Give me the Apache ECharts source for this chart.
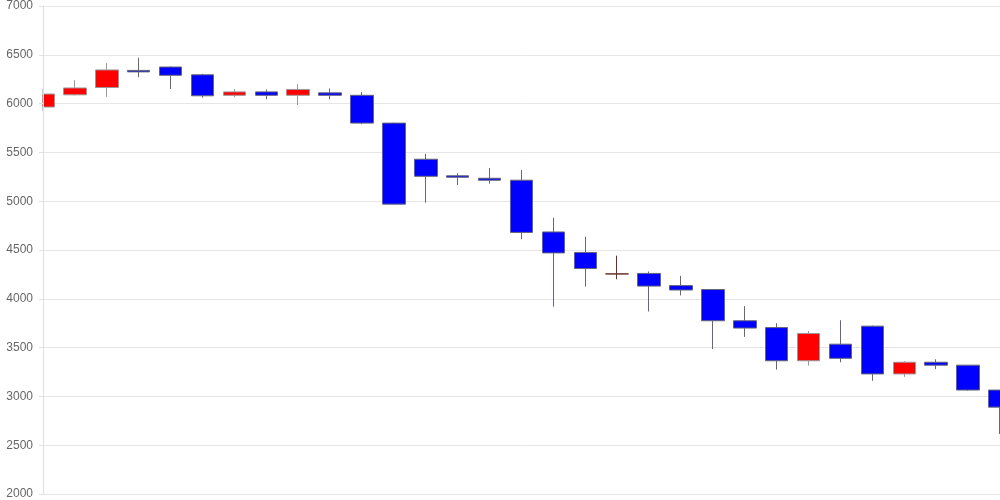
<!DOCTYPE html>
<html>
<head>
<meta charset="utf-8">
<script src="https://cdn.jsdelivr.net/npm/echarts@6/dist/echarts.min.js"></script>
<style>html,body{margin:0;padding:0;background:#fff}#c{width:1000px;height:500px}</style>
</head>
<body>
<div id="c"></div>
<script>
const categories = ['1','2','3','4','5','6','7','8','9','10','11','12','13','14','15','16','17','18','19','20','21','22','23','24','25','26','27','28','29','30','31'];
const opens  = [5965,6090,6165,6340,6375,6295,6085,6120,6085,6110,6085,5800,5430,5260,5235,5215,4685,4475,4255,4260,4135,4095,3775,3705,3365,3535,3720,3230,3350,3320,3065];
const closes = [6098,6160,6345,6325,6290,6080,6120,6085,6145,6085,5800,4970,5255,5245,5215,4680,4470,4310,4255,4130,4090,3775,3700,3365,3645,3390,3230,3350,3320,3065,2890];
const lows   = [5924,6085,6070,6270,6150,6060,6065,6045,5985,6045,5790,4965,4985,5165,5180,4610,3920,4125,4200,3870,4035,3485,3610,3275,3315,3350,3160,3200,3280,3060,2615];
const highs  = [6150,6240,6415,6470,6380,6305,6150,6145,6200,6155,6120,5805,5485,5285,5340,5320,4830,4635,4442,4280,4235,4095,3925,3750,3670,3780,3725,3360,3380,3320,3065];
const yTicks = {min: 2000, max: 7000, interval: 500};

const data = categories.map((c, i) => {
  const item = {value: [opens[i], closes[i], lows[i], highs[i]]};
  if (opens[i] === closes[i]) {
    item.itemStyle = {color: '#6a2c2c', color0: '#6a2c2c', borderColor: '#6a2c2c', borderColor0: '#6a2c2c'};
  }
  return item;
});

const gridLeft = 43, gridTop = 6, gridBottom = 6;
const chart = echarts.init(document.getElementById('c'), null, {renderer: 'canvas'});
chart.setOption({
  animation: false,
  backgroundColor: '#fff',
  grid: {left: gridLeft, right: 0, top: gridTop, bottom: gridBottom, containLabel: false},
  xAxis: {
    type: 'category',
    data: categories,
    boundaryGap: false,
    axisLine: {show: false},
    axisTick: {show: false},
    axisLabel: {show: false},
    splitLine: {show: false}
  },
  yAxis: [{
    type: 'value',
    min: yTicks.min, max: yTicks.max, interval: yTicks.interval,
    axisLine: {show: false},
    axisTick: {show: false},
    axisLabel: {show: false},
    splitLine: {show: true, lineStyle: {color: '#e6e6e6'}}
  }, {
    type: 'value', position: 'left', z: 10,
    min: yTicks.min, max: yTicks.max, interval: yTicks.interval,
    axisLine: {show: true, lineStyle: {color: '#e0e0e0'}},
    axisTick: {show: true, length: 4, lineStyle: {color: '#e0e0e0'}},
    axisLabel: {color: '#666', fontSize: 12, fontFamily: 'Liberation Sans, Arial, sans-serif', margin: 10,
                formatter: v => String(v)},
    splitLine: {show: false}
  }],
  series: [{
    type: 'candlestick',
    data: data,
    yAxisIndex: 0,
    barWidth: 23,
    clip: true,
    itemStyle: {
      color: '#ff0000',
      color0: '#0000ff',
      borderColor: '#999999',
      borderColor0: '#666677',
      borderWidth: 1
    }
  }],
  // white mask left of the plot area (under the axis labels, over the series) so the first candle is cut at the axis
  graphic: [{
    type: 'rect', z: 5, silent: true,
    shape: {x: gridLeft - 16, y: 0, width: 15.5, height: 500},
    style: {fill: '#fff'}
  }]
});
</script>
</body>
</html>
